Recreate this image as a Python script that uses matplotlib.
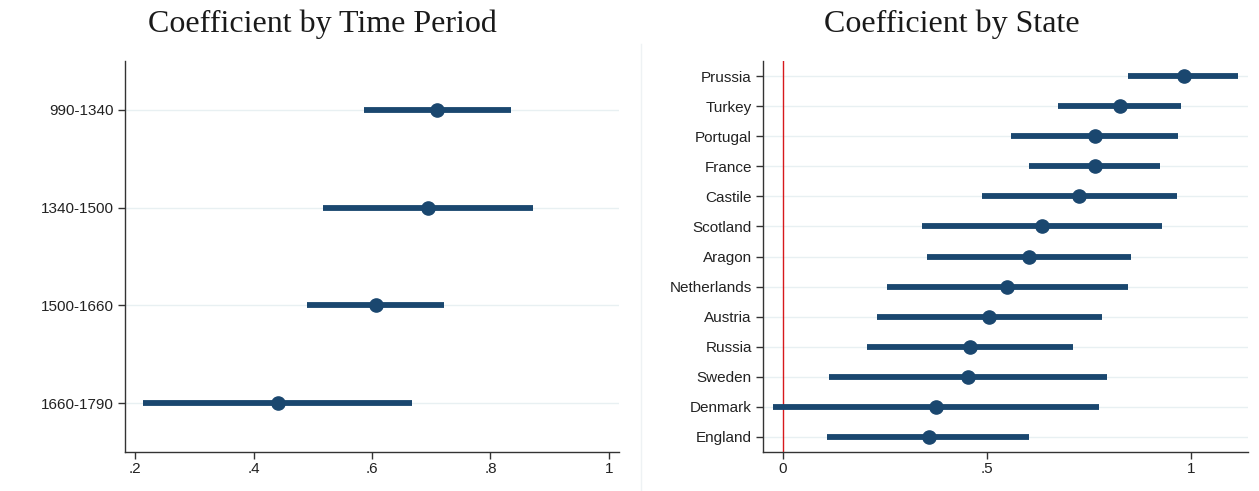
import numpy as np
import matplotlib.pyplot as plt
from matplotlib.lines import Line2D

# Coefficients by time period (point estimate, lower CI, upper CI)
periods = ["990-1340", "1340-1500", "1500-1660", "1660-1790"]
period_coef = [0.710, 0.694, 0.607, 0.441]
period_lo = [0.586, 0.517, 0.491, 0.214]
period_hi = [0.834, 0.871, 0.722, 0.668]

# Coefficients by state
states = ["Prussia", "Turkey", "Portugal", "France", "Castile", "Scotland", "Aragon",
          "Netherlands", "Austria", "Russia", "Sweden", "Denmark", "England"]
state_coef = [0.982, 0.825, 0.764, 0.764, 0.725, 0.636, 0.603,
              0.550, 0.504, 0.458, 0.453, 0.375, 0.357]
state_lo = [0.847, 0.674, 0.558, 0.603, 0.487, 0.342, 0.354,
            0.256, 0.230, 0.205, 0.114, -0.024, 0.109]
state_hi = [1.116, 0.976, 0.969, 0.925, 0.965, 0.929, 0.853,
            0.846, 0.781, 0.711, 0.794, 0.775, 0.604]

NAVY = "#1a476f"
GRID = "#e8f0f2"
SPINE = "#333333"


def fmt(v):
    s = f"{v:g}"
    if s.startswith("0.") and s != "0":
        s = s[1:]
    return s


def coefplot(ax, labels, coef, lo, hi, xlim, xticks):
    y = np.arange(1, len(labels) + 1)
    for yi in y:
        ax.axhline(yi, color=GRID, lw=1.0, zorder=0)
    ax.hlines(y, lo, hi, color=NAVY, lw=4.2, zorder=2)
    ax.plot(coef, y, "o", color=NAVY, ms=9.5, zorder=3)
    ax.set_ylim(len(labels) + 0.5, 0.5)
    ax.set_xlim(*xlim)
    ax.set_yticks(y)
    ax.set_yticklabels(labels)
    ax.set_xticks(xticks)
    ax.set_xticklabels([fmt(t) for t in xticks])
    for side in ["top", "right"]:
        ax.spines[side].set_visible(False)
    for side in ["left", "bottom"]:
        ax.spines[side].set_color(SPINE)
        ax.spines[side].set_linewidth(1.0)
    ax.tick_params(axis="both", colors=SPINE, labelcolor="#222222",
                   labelsize=11, length=5, width=1.0, direction="out")
    ax.tick_params(axis="y", pad=3)
    ax.tick_params(axis="x", pad=2)


plt.rcParams["font.family"] = ["Liberation Sans", "DejaVu Sans"]

fig = plt.figure(figsize=(12.59, 4.91), dpi=100)
W, H = 1259, 491

ax1 = fig.add_axes([125 / W, 1 - 452 / H, (619 - 125) / W, (452 - 61) / H])
ax2 = fig.add_axes([763 / W, 1 - 452 / H, (1248 - 763) / W, (452 - 61) / H])

coefplot(ax1, periods, period_coef, period_lo, period_hi,
         (0.183, 1.017), [0.2, 0.4, 0.6, 0.8, 1.0])
coefplot(ax2, states, state_coef, state_lo, state_hi,
         (-0.049, 1.14), [0, 0.5, 1.0])
ax2.axvline(0, color="#d7191c", lw=1.0, zorder=1)

fig.text(322 / W, 1 - 24 / H, "Coefficient by Time Period", ha="center", va="center",
         fontsize=23, family="Liberation Serif", color="#1a1a1a")
fig.text(952 / W, 1 - 24 / H, "Coefficient by State", ha="center", va="center",
         fontsize=23, family="Liberation Serif", color="#1a1a1a")

# faint separator between the two panels
fig.add_artist(Line2D([641 / W, 641 / W], [0, 1 - 44 / H], color="#eef2f4", lw=1.0))

fig.savefig("out.png", dpi=100)
